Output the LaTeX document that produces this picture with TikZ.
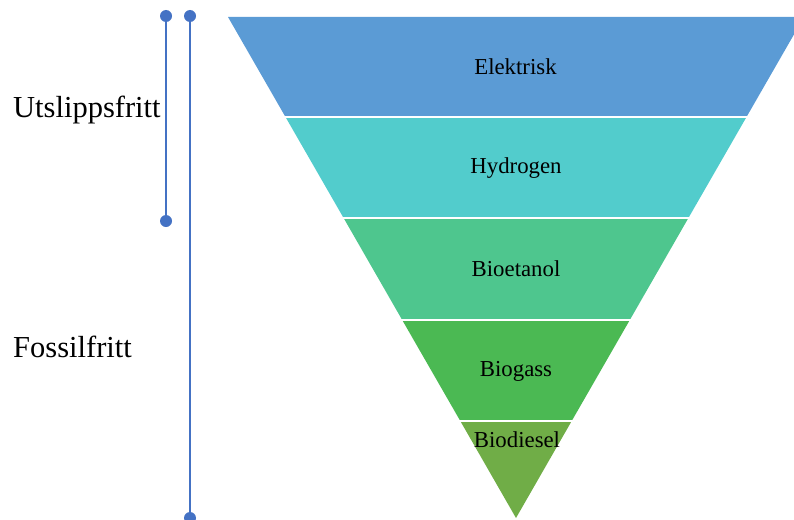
\documentclass[tikz,border=0pt]{standalone}
\usepackage{fontspec}
\setmainfont{Liberation Serif}
\definecolor{cElek}{HTML}{5B9BD5}
\definecolor{cHyd}{HTML}{52CCCC}
\definecolor{cEta}{HTML}{4EC68E}
\definecolor{cGas}{HTML}{4BB953}
\definecolor{cDie}{HTML}{70AD47}
\definecolor{cLine}{HTML}{4472C4}
\begin{document}
\begin{tikzpicture}[x=1pt,y=-1pt,
  lbl/.style={inner sep=0pt,font=\fontsize{22.8}{26}\selectfont},
  side/.style={inner sep=0pt,anchor=base west,font=\fontsize{30.5}{34}\selectfont},
  dot/.style={circle,fill=cLine,inner sep=0pt,minimum size=12pt},
  bar/.style={draw=cLine,line width=2pt}]
\clip (0,0) rectangle (794,519);
\useasboundingbox (0,0) rectangle (794,519);
% bands
\fill[cElek] (228,17) -- (804,17) -- (746.5,117) -- (285.5,117) -- cycle;
\fill[cHyd] (285.5,117) -- (746.5,117) -- (688.4,218) -- (343.6,218) -- cycle;
\fill[cEta] (343.6,218) -- (688.4,218) -- (629.8,320) -- (402.2,320) -- cycle;
\fill[cGas] (402.2,320) -- (629.8,320) -- (571.7,421) -- (460.3,421) -- cycle;
\fill[cDie] (460.3,421) -- (571.7,421) -- (516,518) -- cycle;
\draw[white,line width=2pt] (280,117) -- (752,117);
\draw[white,line width=2pt] (338,218) -- (694,218);
\draw[white,line width=2pt] (396,320) -- (636,320);
\draw[white,line width=2pt] (455,421) -- (577,421);
% labels
\node[lbl] (elek) at (515.5,67) {Elektrisk};
\node[lbl] (hyd) at (516,168) {Hydrogen};
\node[lbl] (eta) at (516,269) {Bioetanol};
\node[lbl] (gas) at (516,371) {Biogass};
\node[lbl] (die) at (517,440) {Biodiesel};
% side labels
\node[side] (utsl) at (13,117.5) {Utslippsfritt};
\node[side] (foss) at (13,357.5) {Fossilfritt};
% bars
\node[dot] (a1) at (166,16) {};
\node[dot] (a2) at (166,221) {};
\node[dot] (b1) at (190,16) {};
\node[dot] (b2) at (190,518) {};
\draw[bar] (a1.center) -- (a2.center);
\draw[bar] (b1.center) -- (b2.center);
\end{tikzpicture}
\end{document}
